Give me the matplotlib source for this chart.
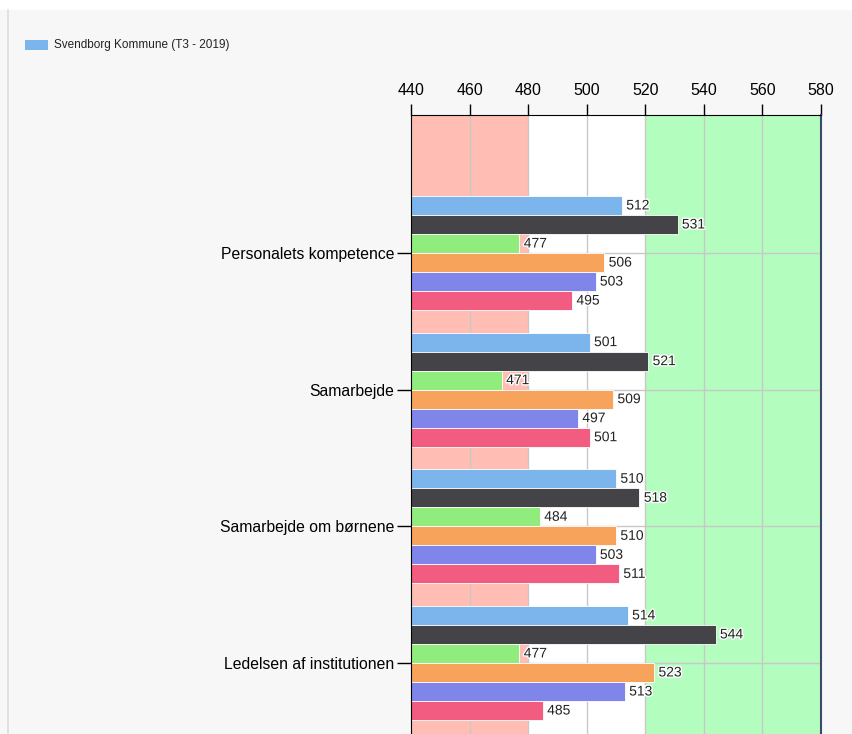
import matplotlib
matplotlib.use('Agg')
import matplotlib.pyplot as plt
import matplotlib.patheffects as pe
from matplotlib.lines import Line2D
from matplotlib.patches import Rectangle

# Survey scores per question area, one value per series
categories = [
    'Personalets kompetence',
    'Samarbejde',
    'Samarbejde om børnene',
    'Ledelsen af institutionen',
]
series_values = [
    [512, 531, 477, 506, 503, 495],
    [501, 521, 471, 509, 497, 501],
    [510, 518, 484, 510, 503, 511],
    [514, 544, 477, 523, 513, 485],
]
series_colors = ['#7cb5ec', '#434348', '#90ed7d', '#f7a35c', '#8085e9', '#f15c80']
legend_label = 'Svendborg Kommune (T3 - 2019)'
x_ticks = [440, 460, 480, 500, 520, 540, 560, 580]

BG = '#f7f7f7'
plt.rcParams.update({
    'font.family': ['Liberation Sans', 'DejaVu Sans'],
    'figure.facecolor': BG,
})

fig = plt.figure(figsize=(8.52, 7.34), dpi=100)
fig.patches.append(Rectangle((0, 1 - 10 / 734), 1, 10 / 734, transform=fig.transFigure,
                             facecolor='white', edgecolor='none', zorder=0))
fig.add_artist(Line2D([8 / 852, 8 / 852], [0, 1 - 10 / 734], transform=fig.transFigure,
                      color='#dddddd', lw=1.2))

ax = fig.add_axes([411 / 852, 0, 410 / 852, 619 / 734])
ax.set_facecolor('white')

# score bands
ax.axvspan(440, 480, color='#ffbdb4', zorder=0, lw=0)
ax.axvspan(520, 580, color='#b3fdbf', zorder=0, lw=0)

bar_h = 19 / 136.5
for ci, vals in enumerate(series_values):
    for si, v in enumerate(vals):
        y = ci + (si - 2.5) * bar_h
        ax.barh(y, v - 440, left=440, height=bar_h, color=series_colors[si],
                edgecolor='white', linewidth=0.6, zorder=3)
        ax.text(v + 1.5, y, str(v), va='center', ha='left', fontsize=10,
                color='#222222', zorder=4,
                path_effects=[pe.withStroke(linewidth=2, foreground='white')])

ax.set_xlim(440, 580)
ax.set_ylim(3.52, -1.01)
ax.set_xticks(x_ticks)
ax.set_yticks(range(len(categories)))
ax.set_yticklabels(categories, fontsize=11.3)
ax.xaxis.tick_top()
ax.tick_params(axis='x', direction='out', length=8, width=1, labelsize=11.5, pad=4, colors='black')
ax.tick_params(axis='y', direction='out', length=10, width=1, pad=2, colors='black')
ax.grid(True, color='#c8c8c8', lw=1, zorder=1)
ax.set_axisbelow(True)

ax.spines['bottom'].set_visible(False)
for side in ('top', 'left', 'right'):
    ax.spines[side].set_zorder(5)
ax.spines['top'].set_color('black')
ax.spines['left'].set_color('black')
ax.spines['right'].set_color('#3a4a6a')
ax.spines['right'].set_linewidth(1.5)

# legend swatch and label
fig.patches.append(Rectangle((25 / 852, 1 - 50 / 734), 23 / 852, 10 / 734,
                             transform=fig.transFigure, facecolor=series_colors[0],
                             edgecolor='none'))
fig.text(54 / 852, 1 - 45 / 734, legend_label, fontsize=8.5, va='center', ha='left',
         color='#222222')

fig.savefig('out.png', dpi=100, facecolor=BG)
